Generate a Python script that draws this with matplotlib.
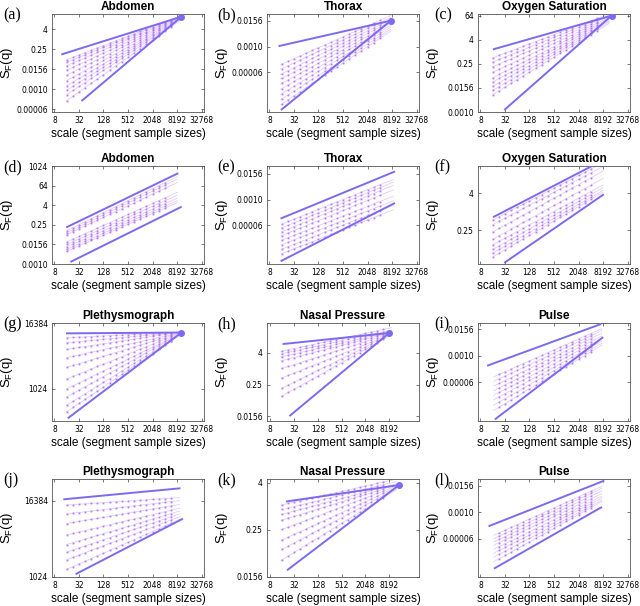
import numpy as np
import matplotlib.pyplot as plt
from matplotlib.ticker import NullLocator

# panel titles and tags, row by row
titles = ['Abdomen', 'Thorax', 'Oxygen Saturation',
          'Abdomen', 'Thorax', 'Oxygen Saturation',
          'Plethysmograph', 'Nasal Pressure', 'Pulse',
          'Plethysmograph', 'Nasal Pressure', 'Pulse']
tags = ['(a)', '(b)', '(c)', '(d)', '(e)', '(f)',
        '(g)', '(h)', '(i)', '(j)', '(k)', '(l)']

# everything below is log2 of scale / log2 of S_F(q)
ylims = [(-14.6, 5.07), (-20.1, -4.97), (-10, 6.27),
         (-10, 10), (-20, -4.8), (-5.68, 4.95),
         (8.04, 14.0), (-6.6, 5.79), (-19.9, -5.04),
         (10, 15.13), (-6, 2.31), (-19.8, -4.99)]
yticks = [[2, -2, -6, -10, -14], [-6, -10, -14], [6, 2, -2, -6, -10],
          [10, 6, 2, -2, -6, -10], [-6, -10, -14], [2, -2],
          [14, 10], [2, -2, -6], [-6, -10, -14],
          [14, 10], [2, -2, -6], [-6, -10, -14]]
ytick_text = {14: '16384', 10: '1024', 6: '64', 2: '4', -2: '0.25',
              -6: '0.0156', -10: '0.0010', -14: '0.00006'}

# thick lines: [x0, y0, x1, y1]
q_min_line = [[3.63, -3.0, 13.36, 4.53], [3.82, -9.9, 12.9, -6.0],
              [4.09, 0.43, 13.7, 6.0], [4.04, -2.44, 13.03, 8.45],
              [3.98, -12.9, 13.17, -5.7], [4.09, -0.56, 13.0, 5.57],
              [4.02, 13.37, 13.36, 13.42], [4.11, 3.14, 13.0, 4.53],
              [3.62, -11.47, 12.77, -5.24], [3.8, 14.07, 13.2, 14.64],
              [4.39, 0.41, 13.83, 1.8], [3.73, -12.08, 13.03, -5.29]]
q_max_line = [[5.27, -12.27, 13.36, 4.53], [4.0, -19.7, 12.9, -6.0],
              [5.0, -9.57, 13.7, 6.0], [4.37, -9.5, 13.3, 1.6],
              [3.98, -19.5, 13.17, -10.6], [5.0, -5.5, 13.0, 1.82],
              [4.15, 8.24, 13.36, 13.42], [4.67, -5.9, 13.0, 4.53],
              [4.24, -19.57, 12.95, -7.27], [4.79, 10.17, 13.41, 13.03],
              [4.47, -5.38, 13.83, 1.8], [4.17, -18.46, 12.84, -9.29]]
hub = [True, True, True, False, False, False,
       True, True, False, False, True, False]

# thin (intermediate q) fits: x-range, start and end values
thin_x = [(4.0, 13.2), (3.9, 12.9), (4.0, 13.5), (4.0, 13.0),
          (4.0, 13.1), (4.0, 13.0), (4.0, 13.3), (3.9, 13.2),
          (4.08, 12.9), (4.0, 13.2), (3.9, 13.6), (4.08, 12.9)]
thin_start = [
    [-4.1, -4.6, -5.3, -6.2, -7.2, -8.3, -9.3, -10.2, -11.1, -12.3],
    [-12.8, -13.5, -14.3, -15.0, -15.8, -16.6, -17.4, -18.2, -19.0],
    [-1.0, -1.7, -2.5, -3.4, -4.3, -5.0, -5.7, -6.4, -7.1],
    [-3.2, -3.6, -4.0, -5.5, -6.0, -6.5, -7.0, -7.4],
    [-13.8, -14.4, -15.0, -15.6, -16.3, -17.0, -17.7, -18.4],
    [-0.9, -1.4, -2.2, -3.0, -3.6, -4.1, -4.5, -4.9],
    [13.1, 12.8, 12.4, 11.9, 11.3, 10.6, 10.0, 9.5, 9.0, 8.6],
    [2.2, 1.9, 1.5, 1.0, 0.0, -1.2, -2.5, -3.5],
    [-13.2, -13.9, -14.6, -15.3, -16.0, -16.7, -17.5, -18.3],
    [13.77, 13.3, 12.8, 12.2, 11.7, 11.3, 10.9, 10.4],
    [0.1, -0.3, -0.7, -1.2, -2.0, -2.9, -3.7, -4.6],
    [-13.5, -14.0, -14.5, -15.0, -15.6, -16.2, -16.8, -17.5]]
thin_end = [
    [4.6, 4.5, 4.4, 4.3, 4.2, 4.1, 4.0, 3.9, 3.8, 3.7],
    [-5.2, -5.5, -5.8, -6.1, -6.4, -6.7, -7.0, -7.3, -7.6],
    [6.3, 6.1, 5.9, 5.7, 5.5, 5.3, 5.1, 4.9, 4.7],
    [7.8, 7.3, 6.6, 4.6, 4.0, 3.4, 2.9, 2.5],
    [-6.9, -7.3, -7.8, -8.5, -9.5, -10.2, -10.9, -11.6],
    [5.3, 4.9, 4.4, 3.6, 2.9, 2.6, 2.3, 2.1],
    [13.45, 13.45, 13.45, 13.4, 13.4, 13.4, 13.35, 13.35, 13.3, 13.3],
    [5.2, 4.9, 4.7, 4.6, 4.5, 4.4, 4.4, 4.3],
    [-5.9, -6.2, -6.6, -7.0, -7.4, -7.8, -8.1, -8.4],
    [14.15, 14.0, 13.8, 13.6, 13.45, 13.3, 13.15, 13.0],
    [2.3, 2.1, 1.9, 1.8, 1.7, 1.6, 1.5, 1.4],
    [-6.1, -6.4, -6.8, -7.2, -7.6, -7.9, -8.2, -8.4]]

dot_scales = [16, 23, 32, 45, 64, 91, 128, 181, 256, 362, 512, 724,
              1024, 1448, 2048, 2896, 4096, 5793]
x_ticks = [8, 32, 128, 512, 2048, 8192, 32768]
short_x = [False] * 7 + [True, False, False, True, False]

thick_c = '#7B6BF0'
thin_c = '#E2CCFA'
dot_c = '#B57AF2'

fig = plt.figure(figsize=(6.4, 6.06), dpi=100)
W, H = 640.0, 606.0
col_left = [52, 267, 478]
row_top = [14, 166, 323, 479]
aw, ah = 152, 98
tag_x = [3, 217, 434]

for i in range(12):
    r, c = divmod(i, 3)
    ax = fig.add_axes([col_left[c] / W, 1 - (row_top[r] + ah) / H, aw / W, ah / H])
    ax.set_xscale('log', base=2)
    ax.set_yscale('log', base=2)

    x0, x1 = thin_x[i]
    for s, e in zip(thin_start[i], thin_end[i]):
        ax.plot(2.0 ** np.array([x0, x1]), 2.0 ** np.array([s, e]),
                color=thin_c, lw=0.6, zorder=1)
        lx = np.log2(dot_scales)
        lx = lx[(lx >= x0) & (lx <= x1 - 0.6)]
        ly = np.interp(lx, [x0, x1], [s, e])
        ax.plot(2.0 ** lx, 2.0 ** ly, ls='none', marker='s', ms=1.3,
                mew=0, color=dot_c, zorder=2)

    for ln in (q_min_line[i], q_max_line[i]):
        ax.plot(2.0 ** np.array([ln[0], ln[2]]), 2.0 ** np.array([ln[1], ln[3]]),
                color=thick_c, lw=1.4, zorder=3)
    if hub[i]:
        ax.plot(2.0 ** q_min_line[i][2], 2.0 ** q_min_line[i][3], 'o',
                ms=4, color=thick_c, zorder=4)

    if short_x[i]:
        ax.set_xlim(2 ** 2.72, 2 ** 15.5)
        xt = x_ticks[:-1]
    else:
        ax.set_xlim(2 ** 2.8, 2 ** 15.2)
        xt = x_ticks
    ax.set_xticks(xt)
    ax.set_xticklabels([str(v) for v in xt])
    ax.set_ylim(2.0 ** ylims[i][0], 2.0 ** ylims[i][1])
    ax.set_yticks([2.0 ** t for t in yticks[i]])
    ax.set_yticklabels([ytick_text[t] for t in yticks[i]])
    ax.xaxis.set_minor_locator(NullLocator())
    ax.yaxis.set_minor_locator(NullLocator())
    ax.tick_params(direction='in', length=2, width=0.5, top=True, right=True,
                   labelsize=5.5, pad=3, color='#444444')
    for sp in ax.spines.values():
        sp.set_color('#555555')
        sp.set_linewidth(0.6)

    ax.set_title(titles[i], fontsize=8.5, fontweight='bold', pad=3,
                 family='Liberation Sans')
    ax.set_xlabel('scale (segment sample sizes)', fontsize=8.5, labelpad=2,
                  family='Liberation Sans')
    ax.set_ylabel(r'S$_\mathregular{F}$(q)', fontsize=9.5, family='Liberation Sans')
    ax.yaxis.set_label_coords(-37.0 / aw, 0.5)
    fig.text(tag_x[c] / W, 1 - (row_top[r] + 1) / H, tags[i], fontsize=11.5,
             family='Liberation Serif', va='center', ha='left')

fig.savefig('out.png', dpi=100)
